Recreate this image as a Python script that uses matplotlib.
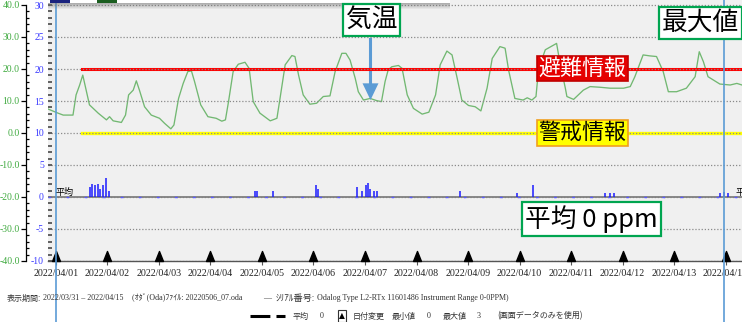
import numpy as np
import matplotlib
matplotlib.use('Agg')
from matplotlib import pyplot as plt
from matplotlib.path import Path
from matplotlib.patches import Rectangle
from matplotlib.lines import Line2D

plt.rcParams['font.family'] = ['Liberation Serif', 'Noto Sans CJK JP', 'DejaVu Sans']
plt.rcParams['axes.unicode_minus'] = False

W, H, DPI = 742, 322, 100
JP = ['Noto Sans CJK JP', 'DejaVu Sans']

# date axis: day offset from 2022/04/01 00:00
date_labels = ['2022/04/01', '2022/04/02', '2022/04/03', '2022/04/04', '2022/04/05',
               '2022/04/06', '2022/04/07', '2022/04/08', '2022/04/09', '2022/04/10',
               '2022/04/11', '2022/04/12', '2022/04/13', '2022/04/14']
day_marks = np.arange(len(date_labels))
x_range = (-0.155, 13.32)

# air temperature (green axis, deg C)
temp_days = [-0.155, 0.04, 0.14, 0.33, 0.39, 0.46, 0.52, 0.65, 0.82, 0.98, 1.04, 1.11,
             1.27, 1.35, 1.41, 1.50, 1.56, 1.62, 1.72, 1.85, 2.01, 2.11, 2.23, 2.29,
             2.38, 2.47, 2.56, 2.63, 2.69, 2.81, 2.95, 3.11, 3.22, 3.29, 3.35, 3.44,
             3.54, 3.67, 3.75, 3.83, 3.96, 4.16, 4.29, 4.35, 4.45, 4.58, 4.64, 4.71,
             4.80, 4.93, 5.06, 5.19, 5.32, 5.42, 5.55, 5.63, 5.71, 5.81, 5.87, 5.97,
             6.10, 6.23, 6.32, 6.39, 6.45, 6.52, 6.65, 6.72, 6.82, 6.94, 7.11, 7.24,
             7.37, 7.46, 7.59, 7.69, 7.79, 7.88, 8.01, 8.14, 8.25, 8.37, 8.47, 8.62,
             8.72, 8.79, 8.91, 9.07, 9.15, 9.24, 9.32, 9.37, 9.50, 9.72, 9.79, 9.89,
             9.92, 10.05, 10.24, 10.37, 10.56, 10.76, 11.02, 11.15, 11.24, 11.40, 11.53,
             11.66, 11.79, 11.89, 12.05, 12.24, 12.41, 12.49, 12.57, 12.66, 12.89,
             13.09, 13.22, 13.32]
temp_c = [7.5, 6.2, 5.6, 5.6, 11.9, 15.0, 18.1, 8.8, 6.2, 4.1, 5.1, 3.8,
          3.3, 5.6, 11.9, 13.4, 16.3, 13.4, 8.2, 5.6, 4.6, 3.0, 1.3, 2.5,
          10.8, 15.5, 19.2, 19.4, 16.1, 8.8, 5.1, 4.6, 3.7, 4.1, 9.8, 19.2,
          21.5, 22.1, 20.2, 9.8, 6.2, 3.8, 4.6, 10.8, 21.3, 24.2, 23.9, 18.1,
          11.9, 9.0, 9.3, 11.4, 11.6, 19.2, 24.9, 24.9, 22.8, 17.1, 12.9, 10.3,
          10.8, 10.1, 9.8, 16.1, 19.7, 20.7, 21.1, 20.2, 11.9, 7.7, 5.9, 6.5,
          11.9, 21.3, 25.6, 24.4, 17.1, 10.3, 8.6, 8.2, 6.9, 14.0, 23.3, 27.0,
          26.5, 19.5, 10.8, 10.3, 11.0, 10.3, 11.4, 20.0, 26.0, 28.0, 21.5, 14.0,
          11.4, 10.5, 13.4, 14.5, 14.3, 14.0, 14.0, 14.5, 17.6, 24.4, 24.1,
          23.9, 19.2, 12.9, 12.9, 14.0, 17.6, 25.4, 22.3, 17.6, 15.3,
          15.0, 15.5, 15.0]

# gas reading (blue axis, ppm): nonzero samples only
ppm_days = [0.66, 0.70, 0.76, 0.82, 0.85, 0.91, 0.97, 1.03, 3.86, 3.90, 4.21, 5.05,
            5.09, 5.84, 5.94, 6.02, 6.06, 6.10, 6.17, 6.23, 7.84, 8.95, 9.26, 10.66,
            10.76, 10.83, 12.89, 12.97, 13.05]
ppm_vals = [1.5, 2.0, 1.8, 2.0, 1.2, 1.9, 3.0, 1.0, 1.0, 0.9, 1.0, 1.9,
            1.2, 1.5, 1.0, 1.9, 2.2, 1.3, 1.0, 1.0, 0.9, 0.6, 1.8, 0.6,
            0.7, 0.7, 0.7, 0.8, 0.6]

evac_level = 20     # 避難情報 (deg C)
warn_level = 0      # 警戒情報 (deg C)
level_start = 0.5
cursor_days = [0.0, 12.97]


def fx(x):
    return x / W


def fy(y):
    return 1 - y / H


fig = plt.figure(figsize=(W / DPI, H / DPI), dpi=DPI)
fig.patch.set_facecolor('white')

ax = fig.add_axes([48 / W, 61 / H, 1 - 48 / W, 261 / H])
ax.set_facecolor('#f0f0f0')
ax.set_xlim(*x_range)
ax.set_ylim(-40, -40 + 261 / 3.2)
axb = ax.twinx()
axb.set_ylim(-10, -10 + 261 / 6.4)

for s in ['top', 'right']:
    ax.spines[s].set_visible(False)
ax.spines['left'].set_position(('outward', 15.8))
ax.spines['left'].set_bounds(-40, 40)
ax.spines['left'].set_linewidth(0.9)
ax.spines['bottom'].set_color('#555555')
ax.spines['bottom'].set_linewidth(1.0)
for s in axb.spines.values():
    s.set_visible(False)

# green temperature axis
ax.set_yticks(np.arange(-40, 41, 10))
ax.set_yticklabels(['%.1f' % v for v in np.arange(-40, 41, 10)])
ax.set_yticks(np.arange(-40, 41, 2), minor=True)
ax.tick_params(axis='y', which='major', direction='out', length=3.6, width=0.9,
               pad=1, labelsize=7, labelcolor='#3faa3f')
ax.tick_params(axis='y', which='minor', direction='in', length=2.2, width=0.9)

# blue ppm axis on the left as well
axb.yaxis.tick_left()
axb.set_yticks(np.arange(-10, 31, 5))
axb.set_yticks(np.arange(-10, 31, 1), minor=True)
axb.tick_params(axis='y', which='both', direction='in', length=3, width=1.3,
                color='#555555', pad=3, labelsize=7, labelcolor='#3a3aff')
axb.yaxis.grid(True, which='major', ls=(0, (1, 1.5)), color='#8a8a8a', lw=0.9)

ax.set_xticks(day_marks)
ax.set_xticklabels(date_labels)
ax.tick_params(axis='x', length=3, color='#555555', pad=2.5, labelsize=7.2,
               labelcolor='#222222')

# data
ax.plot(temp_days, temp_c, color='#72b872', lw=0.95, zorder=3)
span = x_range[1] - x_range[0]
ax.axhline(evac_level, xmin=(level_start - x_range[0]) / span, color='#ff0000', lw=2.2, zorder=4)
ax.axhline(warn_level, xmin=(level_start - x_range[0]) / span, color='#ffff00', lw=2.4, zorder=4)

axb.axhline(0, color='#808080', lw=1.3, zorder=2)
axb.axhline(0, color='#5a5aff', lw=1.0, ls=(0, (2, 11)), zorder=2)
axb.vlines(ppm_days, 0, ppm_vals, color='#1a1aff', lw=1.1, zorder=3)

# date change markers
tri = Path([(-0.4, 0), (0.4, 0), (0, 1), (-0.4, 0)],
           [Path.MOVETO, Path.LINETO, Path.LINETO, Path.CLOSEPOLY])
axb.plot(day_marks, [-10] * len(day_marks), ls='none', marker=tri, ms=14.4,
         color='black', clip_on=False, zorder=5)

# cursor lines
for d in cursor_days:
    axb.axvline(d, ymin=-61 / 261, ymax=1, color='#5b9bd5', lw=1.2, clip_on=False, zorder=6)

fig.text(fx(55), fy(192), '平均', fontsize=6.5, family=JP, va='center', ha='left')
fig.text(fx(735), fy(192), '平均', fontsize=6.5, family=JP, va='center', ha='left')

# top legend window (cropped) with shadow
for i in range(6):
    fig.add_artist(Rectangle((fx(48), fy(3 + i + 1)), (450 - 48) / W, 1 / H,
                             transform=fig.transFigure, color='#707070',
                             alpha=0.5 * (1 - i / 6), lw=0))
fig.add_artist(Rectangle((fx(48), fy(3)), (450 - 48) / W, 3 / H,
                         transform=fig.transFigure, color='white', lw=0))
fig.add_artist(Rectangle((fx(50), fy(2.5)), 20 / W, 2.5 / H,
                         transform=fig.transFigure, color='#1a237e', lw=0))
fig.add_artist(Rectangle((fx(97), fy(2.5)), 20 / W, 2.5 / H,
                         transform=fig.transFigure, color='#1b5e20', lw=0))

# callouts
green_box = dict(boxstyle='square,pad=0.12', fc='white', ec='#00a550', lw=1.6)
fig.text(fx(371.5), fy(20), '気温', fontsize=18.5, family=JP, ha='center',
         va='center', bbox=green_box)
fig.text(fx(662), fy(23), '最大値', fontsize=18.5, family=JP, ha='left',
         va='center', bbox=green_box)
fig.text(fx(591.5), fy(219), '平均 0 ppm', fontsize=18.5, family=JP, ha='center',
         va='center', bbox=green_box)
fig.text(fx(582.5), fy(68.5), '避難情報', fontsize=15.8, family=JP, ha='center',
         va='center', color='white',
         bbox=dict(boxstyle='square,pad=0.08', fc='#e50000', ec='#c00000', lw=1.2))
fig.text(fx(582.5), fy(133), '警戒情報', fontsize=15.8, family=JP, ha='center',
         va='center', color='black',
         bbox=dict(boxstyle='square,pad=0.08', fc='#ffff00', ec='#f0a020', lw=1.2))
ax.annotate('', xy=(370.5, H - 100), xytext=(370.5, H - 38),
            xycoords='figure pixels', textcoords='figure pixels', annotation_clip=False,
            arrowprops=dict(arrowstyle='simple,head_length=1.2,head_width=1.15,tail_width=0.22',
                            mutation_scale=10, color='#5b9bd5', shrinkA=0, shrinkB=0, lw=0))

# footer
foot = dict(fontsize=5.8, color='#333333', va='center', ha='left')
foot_jp = dict(fontsize=5.8, color='#333333', va='center', ha='left', family=JP)
fig.text(fx(7), fy(298), '表示期間:', **foot_jp)
fig.text(fx(43), fy(298), '2022/03/31 – 2022/04/15', **foot)
fig.text(fx(132), fy(298), '(ｵﾀﾞ(Oda)ﾌｧｲﾙ: 20220506_07.oda', **foot)
fig.text(fx(263), fy(298), '—', **foot)
fig.text(fx(276), fy(298), 'ｼﾘｱﾙ番号:', fontsize=6.6, color='#333333', va='center',
         ha='left', family=JP)
fig.text(fx(317), fy(298), 'Odalog Type L2-RTx 11601486 Instrument Range 0-0PPM)', **foot)

fig.add_artist(Line2D([fx(250), fx(285)], [fy(316), fy(316)], ls=(0, (6.5, 2)),
                      lw=2.2, color='black', transform=fig.transFigure))
fig.text(fx(293), fy(316), '平均', **foot_jp)
fig.text(fx(320), fy(316), '0', **foot)
fig.text(fx(339), fy(316), '▲', fontsize=5.5, family=['DejaVu Sans'], va='center', ha='left',
         bbox=dict(boxstyle='square,pad=0.15', fc='white', ec='#333333', lw=0.8))
fig.text(fx(353), fy(316), '日付変更', **foot_jp)
fig.text(fx(392), fy(316), '最小値', **foot_jp)
fig.text(fx(427), fy(316), '0', **foot)
fig.text(fx(443), fy(316), '最大値', **foot_jp)
fig.text(fx(477), fy(316), '3', **foot)
fig.text(fx(497), fy(316), '(画面データのみを使用)', **foot_jp)

fig.savefig('out.png', dpi=DPI)
